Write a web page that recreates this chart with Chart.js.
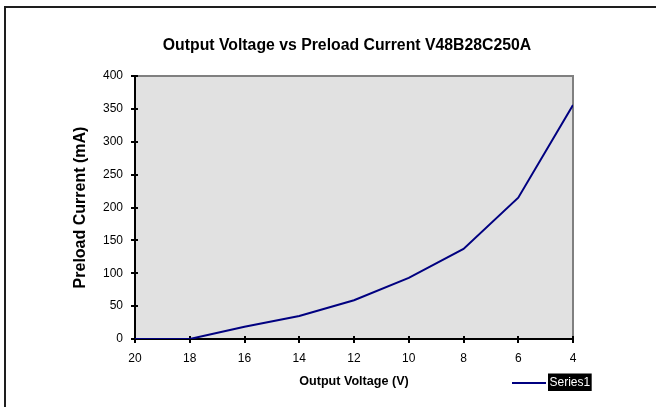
<!DOCTYPE html>
<html>
<head>
<meta charset="utf-8">
<script src="https://cdn.jsdelivr.net/npm/chart.js@4.4.0/dist/chart.umd.min.js"></script>
<style>
html,body{margin:0;padding:0;background:#fff;}
canvas{display:block;}
</style>
</head>
<body>
<canvas id="c" width="656" height="407"></canvas>
<script>
// ---- data ----
const chartTitle = "Output Voltage vs Preload Current V48B28C250A";
const xTitle = "Output Voltage (V)";
const yTitle = "Preload Current (mA)";
const seriesName = "Series1";
const voltages = [20, 18, 16, 14, 12, 10, 8, 6, 4];
const currents = [0, 0, 18.7, 35, 59, 93, 137, 215, 356];
const xTickStep = 2;
const yTickStep = 50;

const FONT = "'Liberation Sans', Arial, sans-serif";
const lineColor = '#000080';

const decor = {
  id: 'decor',
  beforeDraw(chart) {
    const {ctx, chartArea: a} = chart;
    ctx.save();
    ctx.fillStyle = '#e1e1e1';
    ctx.fillRect(a.left, a.top, a.right - a.left, a.bottom - a.top);
    // frame (top + left only)
    ctx.fillStyle = '#1e1e1e';
    ctx.fillRect(4, 6, 652, 2);
    ctx.fillRect(4, 6, 2, 401);
    // title
    ctx.fillStyle = '#000';
    ctx.font = "bold 15.8px " + FONT;
    ctx.textAlign = 'center';
    ctx.textBaseline = 'middle';
    ctx.fillText(chartTitle, 347, 46);
    ctx.restore();
  },
  beforeDatasetsDraw(chart) {
    const {ctx, chartArea: a, scales} = chart;
    ctx.save();
    ctx.strokeStyle = '#808080';
    ctx.lineWidth = 2;
    ctx.beginPath();
    ctx.moveTo(a.left, a.top);
    ctx.lineTo(a.right, a.top);
    ctx.lineTo(a.right, a.bottom);
    ctx.stroke();
    // inner halves of tick marks
    ctx.strokeStyle = '#000';
    ctx.lineWidth = 2;
    ctx.beginPath();
    scales.x.ticks.forEach(t => {
      const px = Math.round(scales.x.getPixelForValue(t.value));
      ctx.moveTo(px, a.bottom);
      ctx.lineTo(px, a.bottom - 3);
    });
    scales.y.ticks.forEach(t => {
      const py = Math.round(scales.y.getPixelForValue(t.value));
      ctx.moveTo(a.left, py);
      ctx.lineTo(a.left + 3, py);
    });
    ctx.stroke();
    ctx.restore();
  },
  afterDraw(chart) {
    const {ctx} = chart;
    const ds = chart.data.datasets[0];
    ctx.save();
    ctx.strokeStyle = ds.borderColor;
    ctx.lineWidth = 2;
    ctx.beginPath();
    ctx.moveTo(512, 383);
    ctx.lineTo(546, 383);
    ctx.stroke();
    ctx.font = "12px " + FONT;
    const w = ctx.measureText(ds.label).width;
    ctx.fillStyle = '#000';
    ctx.fillRect(548, 373.5, w + 3, 17.5);
    ctx.fillStyle = '#fff';
    ctx.textAlign = 'left';
    ctx.textBaseline = 'middle';
    ctx.fillText(ds.label, 549.5, 382.5);
    ctx.restore();
  }
};

new Chart(document.getElementById('c'), {
  type: 'line',
  data: {
    datasets: [{
      label: seriesName,
      data: voltages.map((v, i) => ({x: v, y: currents[i]})),
      borderColor: lineColor,
      backgroundColor: lineColor,
      borderWidth: 2,
      pointRadius: 0,
      tension: 0,
      fill: false
    }]
  },
  options: {
    responsive: false,
    animation: false,
    devicePixelRatio: 1,
    layout: {padding: {left: 0, right: 83, top: 76, bottom: 0}},
    plugins: {
      legend: {display: false},
      title: {display: false},
      tooltip: {enabled: false}
    },
    scales: {
      x: {
        type: 'linear',
        reverse: true,
        min: 4,
        max: 20,
        afterFit(s) { s.height = 68; },
        ticks: {stepSize: xTickStep, color: '#000', font: {family: FONT, size: 12}, padding: 8, maxRotation: 0},
        grid: {drawOnChartArea: false, drawTicks: true, tickLength: 4, color: '#000', lineWidth: 2},
        border: {display: true, color: '#000', width: 2},
        title: {display: true, text: xTitle, color: '#000', font: {family: FONT, size: 12.6, weight: 'bold'}, padding: {top: 0, bottom: 18}}
      },
      y: {
        min: 0,
        max: 400,
        afterFit(s) { s.width = 135; },
        ticks: {stepSize: yTickStep, color: '#000', font: {family: FONT, size: 12}, padding: 8},
        grid: {drawOnChartArea: false, drawTicks: true, tickLength: 4, color: '#000', lineWidth: 2},
        border: {display: true, color: '#000', width: 2},
        title: {display: true, text: yTitle, color: '#000', font: {family: FONT, size: 16, weight: 'bold'}, padding: {top: 71, bottom: 0}}
      }
    }
  },
  plugins: [decor]
});
</script>
</body>
</html>
